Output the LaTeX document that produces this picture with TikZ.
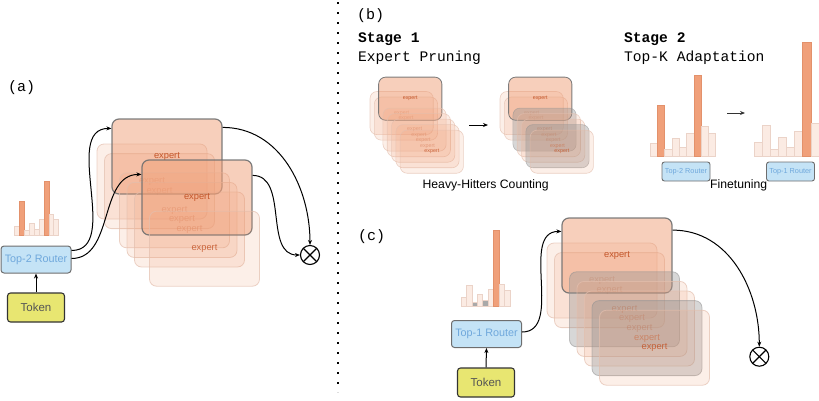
\documentclass[tikz,border=0pt]{standalone}
\usepackage{fontspec}
\setmainfont{Liberation Sans}
\newfontfamily\monofont{Liberation Mono}
\usetikzlibrary{arrows.meta,calc}

\definecolor{boxorange}{HTML}{EF9F78}
\definecolor{exptext}{HTML}{C4562A}
\definecolor{hotline}{HTML}{707070}
\definecolor{faintline}{HTML}{E3BFAE}
\definecolor{prunegray}{HTML}{929292}
\definecolor{barorange}{HTML}{F0A07A}
\definecolor{barorangeline}{HTML}{E3916B}
\definecolor{barlight}{HTML}{FBEBE3}
\definecolor{barline}{HTML}{EBD3C8}
\definecolor{bargray}{HTML}{A9A9A9}
\definecolor{routerfill}{HTML}{C4E3F6}
\definecolor{routerline}{HTML}{6E6E6E}
\definecolor{routertext}{HTML}{6FA8DC}
\definecolor{tokenfill}{HTML}{E8E671}
\definecolor{tokentext}{HTML}{555555}

\tikzset{
  exbox/.style={rectangle, rounded corners=7pt, minimum width=110pt,
    minimum height=75pt, inner sep=0pt, text=exptext, text opacity=1,
    font=\fontsize{9.3}{10}\selectfont},
  faint/.style={exbox, fill=boxorange, fill opacity=0.17, draw=faintline,
    draw opacity=0.7, line width=0.8pt, text opacity=0.42},
  front/.style={faint, text opacity=0.85},
  hot/.style={exbox, fill=boxorange, fill opacity=0.5, draw=hotline,
    draw opacity=0.9, line width=1.2pt},
  pruned/.style={exbox, fill=prunegray, fill opacity=0.37, draw=prunegray,
    draw opacity=0.55, line width=0.8pt, text opacity=0.55},
  lb/.style={fill=barlight, draw=barline, line width=0.6pt},
  ob/.style={fill=barorange, draw=barorangeline, line width=0.6pt},
  gb/.style={fill=bargray, draw=barline, line width=0.6pt},
  router/.style={rectangle, draw=routerline, fill=routerfill, rounded corners=3pt,
    line width=1pt, text=routertext, inner sep=0pt,
    minimum width=70pt, minimum height=27pt, font=\fontsize{10.8}{12}\selectfont},
  minirouter/.style={router, minimum width=48pt, minimum height=19pt,
    rounded corners=2.5pt, line width=0.9pt, font=\fontsize{7.3}{8}\selectfont},
  token/.style={rectangle, draw=black!80, fill=tokenfill, rounded corners=3pt,
    line width=1.1pt, text=tokentext, inner sep=0pt,
    minimum width=57pt, minimum height=29pt, font=\fontsize{11.5}{13}\selectfont},
  otimes/.style={circle, draw, line width=1.1pt, minimum size=19pt, inner sep=0pt,
    path picture={
      \draw[line width=1.1pt] (path picture bounding box.north west) -- (path picture bounding box.south east);
      \draw[line width=1.1pt] (path picture bounding box.north east) -- (path picture bounding box.south west);}},
  conn/.style={-{Stealth[length=5pt,width=4pt]}, line width=1pt, black},
  divider/.style={line width=2pt, dash pattern=on 2pt off 8pt, black},
  panellabel/.style={anchor=base west, inner sep=0pt, font=\monofont\fontsize{15}{16}\selectfont},
  stagetitle/.style={anchor=base west, inner sep=0pt, font=\monofont\bfseries\fontsize{14.6}{16}\selectfont},
  stagetext/.style={anchor=base west, inner sep=0pt, font=\monofont\fontsize{14.6}{16}\selectfont},
  caption/.style={inner sep=0pt, font=\fontsize{12.2}{14}\selectfont},
}

% one row of histogram bars: left x, bar width, baseline, list of top/style
\newcommand\barrow[4]{%
  \foreach \t/\s [count=\i from 0] in {#4} {
    \draw[\s] ({#1+\i*#2},#3) rectangle ({#1+(\i+1)*#2},\t);
  }}

% a stack of eight experts; #1 name prefix, #2..#9 styles, the third one lifted
\newcommand\expertstack[9]{%
  \node[#2] (#10) at (55,37.5) {expert};
  \node[#3] (#11) at (62.5,47.1) {expert};
  \node[#4] (#12) at (70,12.5) {expert};
  \node[#5] (#13) at (77.5,66.3) {expert};
  \node[#6] (#14) at (85,75.9) {expert};
  \node[#7] (#15) at (92.5,85.5) {expert};
  \node[#8] (#16) at (100,95.1) {expert};
  \node[#9] (#17) at (107.5,104.7) {expert};}

\begin{document}
\begin{tikzpicture}[x=1pt,y=-1pt]
\useasboundingbox (0,0) rectangle (819,400);

% vertical dotted separator
\coordinate (divtop) at (338,2);
\coordinate (divbot) at (338,392);
\draw[divider] (divtop) -- (divbot);

% ---------------- panel (a) ----------------
\node[panellabel] (labA) at (8,91.7) {(a)};

\begin{scope}[shift={(97,144)}]
  \node[faint] (a0) at (55,37.5) {expert};
  \node[faint] (a1) at (62.5,47.1) {expert};
  \node[hot]   (a2) at (70,12.5) {expert};
  \node[faint] (a3) at (77.5,66.3) {expert};
  \node[faint] (a4) at (85,75.9) {expert};
  \node[faint] (a5) at (92.5,85.5) {expert};
  \node[hot]   (a6) at (100,53.5) {expert};
  \node[front] (a7) at (107.5,104.7) {expert};
\end{scope}

\barrow{14.3}{4.93}{235}{226.7/lb,201/ob,230.7/lb,223/lb,229/lb,219/lb,181/ob,214/lb,219/lb}

\node[router] (ra) at (36,259.5) {Top-2 Router};
\node[token]  (ta) at (36,307.5) {Token};
\node[otimes] (oa) at (310,255) {};

\draw[conn] (ta.north) -- (ra.south);
\draw[conn] ([yshift=9pt]ra.east) to[out=0,in=180] ([yshift=-10pt]a2.north west);
\draw[conn] ([yshift=1pt]ra.east) to[out=0,in=180] ([yshift=-15pt]a6.north west);
\draw[conn] ([yshift=-9pt]a2.north east) to[out=0,in=90] (oa.north);
\draw[conn] ([yshift=-16pt]a6.north east) to[out=0,in=180] (oa.west);

% ---------------- panel (b) ----------------
\node[panellabel] (labB) at (357,19) {(b)};
\node[stagetitle] (st1) at (358,42.3) {Stage 1};
\node[stagetext]  (st1t) at (358,61) {Expert Pruning};
\node[stagetitle] (st2) at (624,42.3) {Stage 2};
\node[stagetext]  (st2t) at (624,61) {Top-K Adaptation};

\begin{scope}[shift={(370,91.5)}, scale=0.575, transform shape,
    hot/.append style={line width=0.8pt}, faint/.append style={line width=0.6pt}]
  \expertstack{bl}{faint}{faint}{hot}{faint}{faint}{faint}{faint}{front}
\end{scope}
\begin{scope}[shift={(500,91.5)}, scale=0.575, transform shape,
    hot/.append style={line width=0.8pt}, faint/.append style={line width=0.6pt},
    pruned/.append style={line width=0.6pt}]
  \expertstack{br}{faint}{faint}{hot}{pruned}{faint}{faint}{pruned}{front}
\end{scope}

\coordinate (pruneS) at (469,125);
\coordinate (pruneE) at (488,125);
\draw[conn, line width=0.9pt] (pruneS) -- (pruneE);
\node[caption, anchor=base] (hh) at (485.7,188.3) {Heavy-Hitters Counting};

\barrow{650}{7.3}{156.7}{143.3/lb,105.7/ob,149.3/lb,138.3/lb,147.3/lb,133.3/lb,75.7/ob,126/lb,133.3/lb}
\barrow{754.3}{8.08}{156.7}{142.3/lb,125.3/lb,149/lb,137.3/lb,147.3/lb,131/lb,42/ob,123.3/lb}

\node[minirouter] (rb1) at (686,171.5) {Top-2 Router};
\node[minirouter] (rb2) at (790.5,171.5) {Top-1 Router};

\coordinate (adaptS) at (727,113);
\coordinate (adaptE) at (745,113);
\draw[conn, line width=0.9pt, black!80] (adaptS) -- (adaptE);
\node[caption, anchor=base west] (ft) at (710,188.3) {Finetuning};

% ---------------- panel (c) ----------------
\node[panellabel] (labC) at (358,240) {(c)};

\begin{scope}[shift={(547,243)}]
  \expertstack{c}{faint}{faint}{hot}{pruned}{faint}{faint}{pruned}{front}
\end{scope}

\barrow{461}{5.44}{306.7}{297.3/lb,285.7/lb,302.3/gb,294/lb,300.3/gb,289.7/lb,230/ob,284.3/lb,290.3/lb}

\node[router] (rc) at (486.5,334) {Top-1 Router};
\node[token]  (tc) at (486,382.5) {Token};
\node[otimes] (oc) at (759.3,356.7) {};

\draw[conn] (tc.north) -- (rc.south);
\draw[conn] ([yshift=2pt]rc.east) to[out=0,in=180] ([yshift=-14pt]c2.north west);
\draw[conn] ([yshift=-12.7pt]c2.north east) to[out=0,in=90] (oc.north);

\end{tikzpicture}
\end{document}
